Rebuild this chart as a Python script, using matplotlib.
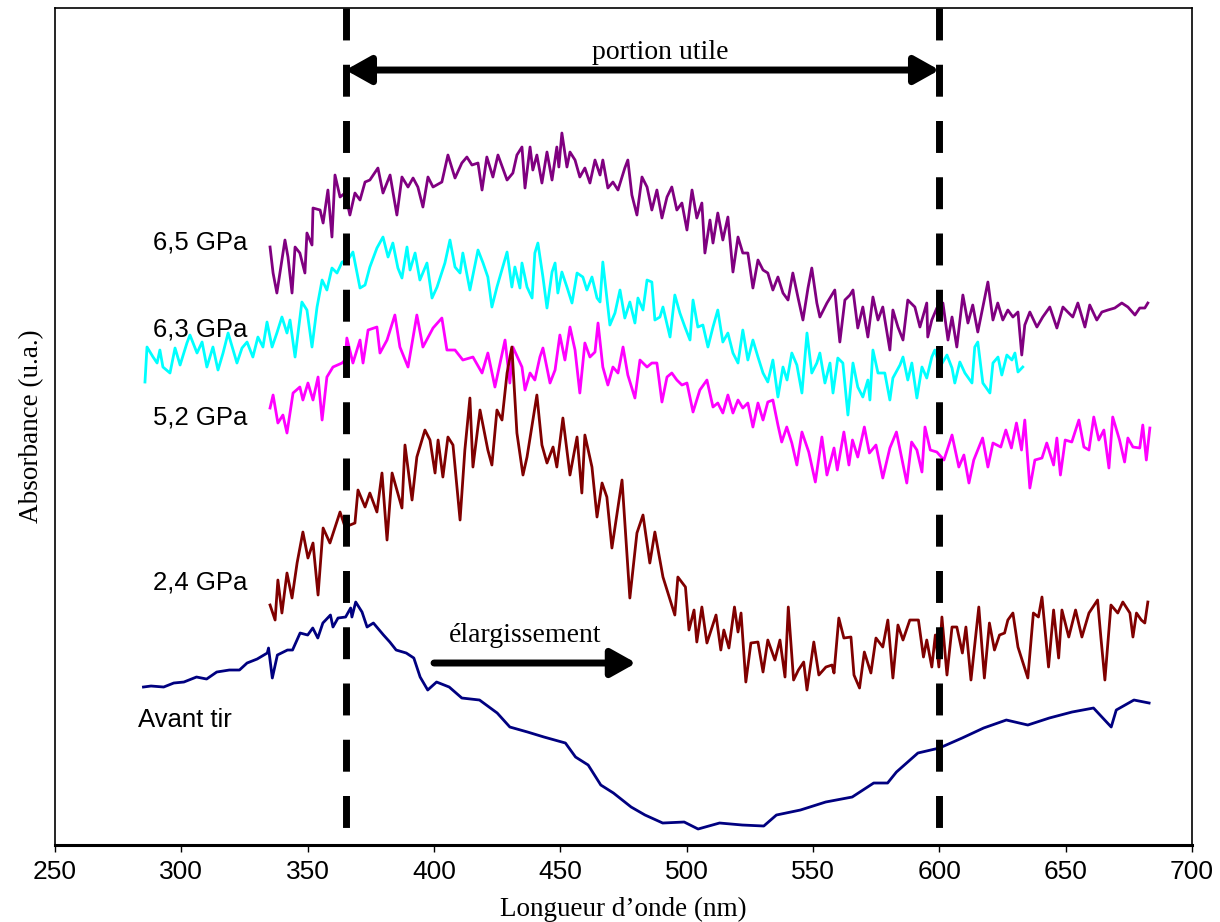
import matplotlib.pyplot as plt

# longueur d'onde (nm), absorbance (u.a.)
avant_tir = [
    (285, 1.58), (288, 1.59), (293, 1.58), (297, 1.62), (301, 1.63), (306, 1.68),
    (310, 1.66), (314, 1.73), (319, 1.75), (323, 1.75), (326, 1.82), (330, 1.86),
    (334, 1.92), (334.5, 1.97), (336, 1.67), (338, 1.90), (342, 1.95), (344, 1.95),
    (347, 2.12), (350, 2.10), (352, 2.17), (354, 2.07), (356, 2.22), (359, 2.30),
    (360, 2.18), (362, 2.27), (365, 2.28), (367, 2.37), (367.5, 2.28), (369, 2.43),
    (371.5, 2.33), (373.5, 2.18), (376, 2.22), (380, 2.10), (382.5, 2.03), (385, 1.95),
    (389, 1.92), (392, 1.87), (394.5, 1.68), (397.5, 1.55), (401, 1.63), (406, 1.58),
    (411, 1.47), (418, 1.45), (425, 1.32), (430, 1.18), (437, 1.13), (443.5, 1.08),
    (452, 1.02), (456, 0.88), (461, 0.80), (466, 0.60), (471, 0.52), (478, 0.38),
    (483.5, 0.30), (490.5, 0.22), (499, 0.23), (504.5, 0.16), (513, 0.22), (522, 0.20),
    (530.5, 0.19), (535.5, 0.30), (545, 0.35), (555, 0.43), (565.5, 0.48), (574, 0.62),
    (579.5, 0.62), (583, 0.73), (591.5, 0.92), (600, 0.97), (609, 1.07), (617.5, 1.17),
    (626.5, 1.25), (635, 1.20), (643.5, 1.27), (652.5, 1.33), (661, 1.37), (668, 1.18),
    (670, 1.35), (677, 1.45), (683, 1.42),
]

gpa_2_4 = [
    (335.1, 2.40), (337.1, 2.25), (338.2, 2.65), (339.8, 2.32), (341.8, 2.72), (343.8, 2.47),
    (345.8, 2.82), (348.1, 3.13), (350.1, 2.87), (352.1, 3.02), (354.1, 2.50), (356.1, 3.17),
    (358.8, 3.02), (362.8, 3.33), (364.8, 3.18), (368.7, 3.22), (369.9, 3.55), (372.7, 3.38),
    (374.6, 3.52), (377.4, 3.33), (379.4, 3.72), (381.4, 3.05), (383.4, 3.72), (387.3, 3.37),
    (388.5, 4.00), (391.3, 3.45), (393.2, 3.88), (396.4, 4.15), (398.4, 4.05), (400.4, 3.72),
    (401.6, 4.05), (403.5, 3.68), (405.5, 4.08), (407.5, 4.00), (410.3, 3.25), (412.2, 3.95),
    (414.2, 4.47), (415.4, 3.78), (418.2, 4.35), (421.3, 3.95), (422.9, 3.80), (424.9, 4.35),
    (426.9, 4.25), (428.9, 4.72), (430.8, 4.98), (432.8, 4.12), (435.2, 3.70), (436.8, 3.88),
    (440.7, 4.50), (442.7, 4.00), (444.7, 3.82), (447.1, 3.98), (448.6, 3.78), (451.0, 4.27),
    (453.8, 3.70), (456.6, 4.08), (458.5, 3.52), (459.7, 4.10), (462.5, 3.78), (464.5, 3.28),
    (466.5, 3.62), (468.4, 3.48), (470.4, 2.97), (474.4, 3.65), (477.5, 2.47), (480.3, 3.12),
    (482.7, 3.30), (485.4, 2.82), (487.4, 3.13), (490.6, 2.68), (495.3, 2.30), (496.5, 2.68),
    (499.5, 2.58), (500.9, 2.15), (502.9, 2.35), (504.0, 2.03), (506.0, 2.38), (508.0, 2.02),
    (511.6, 2.30), (513.5, 1.95), (514.7, 2.15), (516.7, 1.97), (518.9, 2.38), (520.3, 2.13),
    (521.5, 2.32), (523.4, 1.63), (525.4, 2.02), (528.2, 2.03), (530.2, 1.73), (532.1, 2.05),
    (534.9, 1.85), (536.9, 2.05), (538.9, 1.68), (540.2, 2.38), (542.3, 1.65), (544.2, 1.75),
    (546.3, 1.83), (547.6, 1.55), (550.3, 2.03), (552.3, 1.70), (555.1, 1.78), (557.5, 1.80),
    (558.3, 1.72), (560.2, 2.27), (562.2, 2.07), (565.0, 2.08), (566.2, 1.70), (568.4, 1.57),
    (570.3, 1.93), (572.9, 1.72), (574.9, 2.07), (577.6, 1.98), (579.6, 2.25), (581.6, 1.67),
    (583.6, 2.20), (585.6, 2.05), (588.3, 2.25), (591.7, 2.25), (593.7, 1.88), (595.0, 2.05),
    (597.0, 1.78), (598.4, 2.10), (599.8, 1.78), (601.0, 2.28), (603.0, 1.70), (605.0, 2.18),
    (606.9, 2.18), (609.1, 1.92), (610.5, 2.18), (612.5, 1.65), (615.6, 2.38), (617.8, 1.67),
    (619.8, 2.22), (621.8, 1.95), (623.8, 2.10), (625.8, 2.12), (627.1, 2.25), (629.1, 2.32),
    (631.1, 1.98), (633.0, 1.83), (635.0, 1.67), (637.2, 2.32), (639.2, 2.28), (640.6, 2.48),
    (643.2, 1.78), (645.2, 2.35), (647.2, 1.87), (648.5, 2.35), (651.2, 2.08), (653.9, 2.35),
    (656.4, 2.08), (659.2, 2.32), (662.6, 2.45), (663.9, 2.08), (665.5, 1.65), (667.9, 2.40),
    (670.6, 2.32), (672.6, 2.43), (675.4, 2.32), (676.6, 2.08), (678.0, 2.32), (679.9, 2.25),
    (681.3, 2.22), (682.5, 2.43),
]

gpa_5_2 = [
    (335.1, 4.37), (336.3, 4.50), (338.2, 4.22), (340.2, 4.30), (341.8, 4.12), (344.2, 4.52),
    (346.9, 4.58), (348.1, 4.45), (350.1, 4.62), (352.1, 4.45), (354.1, 4.68), (355.7, 4.25),
    (357.6, 4.68), (360.0, 4.78), (363.6, 4.82), (364.8, 4.85), (365.5, 5.07), (367.9, 4.82),
    (370.7, 5.05), (371.9, 4.82), (373.9, 5.15), (377.4, 5.18), (378.6, 4.92), (381.4, 5.05),
    (384.5, 5.30), (386.5, 4.98), (389.7, 4.78), (393.2, 5.30), (395.6, 4.98), (399.6, 5.17),
    (403.1, 5.27), (405.1, 4.95), (408.3, 4.95), (411.4, 4.85), (415.4, 4.88), (419.0, 4.72),
    (421.3, 4.92), (424.1, 4.58), (428.1, 5.05), (430.0, 4.62), (431.2, 4.98), (434.8, 4.78),
    (436.0, 4.55), (438.0, 4.72), (439.9, 4.65), (441.9, 4.88), (443.1, 4.97), (445.9, 4.62),
    (447.9, 4.75), (449.8, 5.10), (451.8, 4.85), (453.8, 5.18), (455.8, 4.95), (457.7, 4.52),
    (459.7, 5.02), (461.7, 4.88), (463.7, 4.93), (464.9, 5.22), (466.8, 4.78), (468.8, 4.60),
    (470.8, 4.78), (472.8, 4.72), (474.8, 4.98), (476.7, 4.70), (479.5, 4.47), (481.5, 4.85),
    (484.3, 4.78), (486.2, 4.82), (488.2, 4.82), (490.2, 4.43), (492.2, 4.68), (494.1, 4.72),
    (496.1, 4.65), (498.1, 4.60), (500.1, 4.62), (502.5, 4.33), (505.2, 4.55), (508.0, 4.65),
    (510.4, 4.38), (512.3, 4.42), (514.3, 4.32), (516.3, 4.50), (518.3, 4.32), (520.3, 4.45),
    (522.2, 4.37), (524.2, 4.42), (526.2, 4.18), (528.2, 4.42), (530.2, 4.25), (532.1, 4.43),
    (534.1, 4.45), (536.1, 4.20), (537.6, 4.03), (539.6, 4.18), (541.6, 4.02), (543.6, 3.80),
    (545.6, 4.13), (548.3, 3.93), (550.9, 3.63), (553.5, 4.08), (555.5, 3.70), (558.3, 3.97),
    (559.6, 3.75), (562.2, 4.13), (564.2, 3.80), (565.6, 4.05), (567.7, 3.88), (570.3, 4.18),
    (572.3, 3.92), (574.9, 4.00), (577.6, 3.67), (580.4, 3.97), (583.0, 4.13), (587.1, 3.62),
    (589.0, 4.03), (591.1, 3.95), (593.1, 3.73), (594.3, 4.18), (596.4, 3.95), (599.0, 3.93),
    (601.8, 3.85), (605.0, 4.10), (607.7, 3.78), (609.7, 3.90), (611.7, 3.62), (613.6, 3.85),
    (617.1, 4.07), (619.2, 3.78), (621.2, 4.02), (624.3, 3.98), (626.3, 4.15), (628.5, 3.97),
    (630.5, 4.22), (632.5, 3.95), (633.8, 4.25), (635.8, 3.57), (637.8, 3.85), (640.6, 3.87),
    (642.5, 4.02), (645.2, 3.80), (646.5, 4.07), (647.9, 3.70), (649.8, 4.05), (652.4, 4.03),
    (655.2, 4.25), (657.2, 3.98), (659.2, 3.95), (661.1, 4.28), (663.1, 4.05), (665.1, 4.15),
    (667.1, 3.77), (668.6, 4.28), (671.3, 4.05), (673.3, 3.83), (674.6, 4.07), (676.6, 3.98),
    (679.3, 3.97), (680.5, 4.20), (681.9, 3.85), (683.3, 4.17),
]

gpa_6_3 = [
    (285.6, 4.63), (286.4, 4.98), (288.8, 4.88), (290.4, 4.82), (291.5, 4.95), (292.7, 4.78),
    (295.5, 4.72), (297.5, 4.97), (299.5, 4.80), (302.2, 5.02), (303.4, 5.10), (306.2, 4.92),
    (308.2, 5.03), (310.1, 4.78), (312.5, 4.98), (314.5, 4.75), (316.5, 4.92), (318.5, 5.12),
    (322.0, 4.82), (324.0, 4.97), (326.0, 5.03), (328.3, 4.88), (330.3, 5.08), (332.3, 4.98),
    (333.9, 5.23), (335.9, 4.98), (337.8, 5.12), (339.8, 5.28), (341.8, 5.12), (343.0, 5.25),
    (345.0, 4.88), (347.7, 5.43), (349.7, 5.35), (351.7, 4.98), (353.7, 5.38), (355.7, 5.65),
    (357.6, 5.55), (359.6, 5.77), (361.6, 5.72), (363.6, 5.83), (365.9, 5.85), (367.9, 5.93),
    (370.7, 5.57), (372.7, 5.60), (374.6, 5.78), (377.4, 5.97), (379.8, 6.08), (381.8, 5.88),
    (383.7, 6.02), (385.7, 5.77), (387.3, 5.67), (389.3, 5.98), (390.5, 5.75), (392.5, 5.92),
    (394.4, 5.65), (397.2, 5.82), (399.2, 5.47), (401.2, 5.58), (404.3, 5.82), (406.3, 6.05),
    (408.3, 5.78), (410.3, 5.72), (411.4, 5.92), (414.2, 5.55), (417.4, 5.95), (419.4, 5.82),
    (421.3, 5.68), (422.9, 5.38), (424.9, 5.58), (428.9, 5.93), (430.8, 5.58), (432.0, 5.78),
    (434.0, 5.57), (434.8, 5.82), (436.8, 5.58), (438.8, 5.47), (439.9, 5.92), (441.1, 6.02),
    (443.1, 5.68), (444.7, 5.37), (446.7, 5.73), (447.9, 5.82), (449.0, 5.52), (450.6, 5.73),
    (452.6, 5.58), (454.6, 5.42), (456.6, 5.72), (458.9, 5.68), (460.5, 5.55), (462.5, 5.68),
    (464.5, 5.47), (465.7, 5.43), (466.8, 5.83), (469.6, 5.20), (471.6, 5.32), (473.6, 5.55),
    (475.5, 5.27), (477.5, 5.43), (479.5, 5.22), (480.7, 5.47), (482.7, 5.35), (484.3, 5.65),
    (486.2, 5.63), (487.4, 5.25), (489.4, 5.28), (490.6, 5.38), (493.4, 5.08), (495.3, 5.50),
    (497.3, 5.32), (499.3, 5.18), (501.3, 5.05), (502.5, 5.45), (504.4, 5.18), (506.4, 5.20),
    (508.4, 4.98), (510.4, 5.18), (512.3, 5.35), (514.3, 5.03), (516.3, 5.12), (518.3, 4.92),
    (520.3, 4.82), (522.2, 5.15), (524.2, 4.85), (526.2, 5.05), (528.2, 4.88), (530.2, 4.72),
    (532.1, 4.63), (534.1, 4.85), (536.1, 4.48), (538.1, 4.78), (539.7, 4.65), (541.6, 4.92),
    (543.6, 4.80), (545.6, 4.52), (547.6, 5.12), (549.5, 4.72), (551.5, 4.82), (552.7, 4.92),
    (554.7, 4.62), (556.7, 4.82), (557.9, 4.52), (559.8, 4.87), (561.8, 4.82), (563.8, 4.30),
    (565.8, 4.82), (567.7, 4.58), (569.7, 4.48), (571.7, 4.65), (572.5, 4.45), (573.7, 4.95),
    (575.7, 4.72), (578.4, 4.72), (580.4, 4.45), (581.6, 4.67), (584.4, 4.80), (585.6, 4.88),
    (587.5, 4.65), (589.1, 4.82), (591.1, 4.47), (593.1, 4.78), (595.0, 4.67), (597.0, 4.88),
    (598.2, 4.95), (600.2, 4.78), (603.0, 4.90), (605.0, 4.77), (606.1, 4.62), (608.1, 4.83),
    (610.1, 4.72), (612.9, 4.62), (614.0, 4.98), (615.2, 5.03), (617.2, 4.62), (620.0, 4.52),
    (621.2, 4.82), (623.2, 4.88), (624.7, 4.70), (626.7, 4.90), (628.7, 4.85), (629.9, 4.92),
    (631.1, 4.73), (633.0, 4.78),
]

gpa_6_5 = [
    (335.1, 5.98), (336.3, 5.72), (337.8, 5.52), (339.0, 5.72), (341.0, 6.05), (342.2, 5.88),
    (343.8, 5.52), (345.0, 5.98), (346.9, 5.92), (348.9, 5.72), (349.7, 6.12), (351.7, 6.00),
    (352.1, 6.37), (354.9, 6.35), (356.1, 6.22), (358.0, 6.55), (359.6, 6.08), (360.8, 6.70),
    (362.8, 6.48), (364.8, 6.52), (366.7, 6.30), (368.7, 6.52), (370.7, 6.45), (372.7, 6.63),
    (374.6, 6.65), (377.8, 6.77), (379.8, 6.52), (382.6, 6.70), (385.3, 6.30), (387.3, 6.68),
    (389.7, 6.58), (391.7, 6.67), (393.6, 6.58), (395.6, 6.38), (397.6, 6.68), (399.6, 6.58),
    (403.1, 6.63), (405.5, 6.90), (408.3, 6.67), (411.0, 6.82), (413.0, 6.88), (415.0, 6.80),
    (417.4, 6.82), (419.0, 6.55), (420.9, 6.88), (423.3, 6.68), (425.3, 6.90), (428.9, 6.65),
    (431.2, 6.72), (432.8, 6.90), (434.8, 6.98), (436.0, 6.57), (438.0, 6.98), (439.1, 6.75),
    (440.7, 6.90), (442.7, 6.62), (444.7, 6.93), (446.7, 6.65), (448.6, 6.98), (449.4, 6.78),
    (450.6, 7.12), (452.6, 6.78), (453.8, 6.93), (455.8, 6.85), (457.7, 6.68), (459.7, 6.77),
    (461.7, 6.62), (463.7, 6.85), (465.7, 6.70), (466.8, 6.85), (468.8, 6.57), (470.8, 6.63),
    (472.8, 6.55), (475.5, 6.77), (476.7, 6.85), (478.3, 6.50), (480.3, 6.30), (482.3, 6.68),
    (484.3, 6.58), (486.2, 6.35), (488.2, 6.55), (490.2, 6.27), (492.2, 6.48), (494.1, 6.58),
    (496.1, 6.35), (498.1, 6.42), (500.1, 6.15), (502.1, 6.55), (504.0, 6.27), (506.0, 6.42),
    (507.2, 5.92), (509.2, 6.25), (510.4, 6.02), (512.3, 6.32), (514.3, 6.05), (516.3, 6.28),
    (518.3, 5.73), (520.3, 6.08), (522.2, 5.92), (524.2, 5.92), (526.2, 5.57), (528.2, 5.85),
    (530.2, 5.75), (532.1, 5.72), (534.1, 5.55), (536.1, 5.68), (538.1, 5.52), (540.1, 5.45),
    (542.0, 5.72), (544.0, 5.48), (546.0, 5.25), (548.0, 5.57), (549.5, 5.77), (551.5, 5.42),
    (552.7, 5.28), (555.5, 5.42), (558.6, 5.55), (560.6, 5.03), (562.6, 5.45), (564.6, 5.50),
    (565.8, 5.55), (567.7, 5.17), (569.7, 5.38), (571.7, 5.08), (573.7, 5.48), (575.7, 5.25),
    (577.6, 5.38), (580.4, 4.95), (581.6, 5.35), (583.6, 5.18), (585.6, 5.05), (587.5, 5.45),
    (590.3, 5.38), (592.3, 5.18), (595.0, 5.42), (595.4, 5.08), (597.0, 5.25), (599.0, 5.37),
    (601.4, 5.42), (603.4, 5.05), (605.0, 5.28), (606.9, 4.98), (609.3, 5.50), (611.3, 5.22),
    (613.2, 5.40), (615.2, 5.13), (617.2, 5.38), (619.2, 5.63), (621.2, 5.25), (623.1, 5.42),
    (625.1, 5.25), (627.1, 5.35), (629.1, 5.28), (631.1, 5.33), (632.6, 4.90), (633.8, 5.20),
    (635.8, 5.33), (638.6, 5.18), (640.9, 5.28), (643.7, 5.38), (646.5, 5.17), (648.9, 5.38),
    (650.8, 5.33), (652.8, 5.28), (654.8, 5.42), (657.6, 5.18), (659.5, 5.40), (662.3, 5.25),
    (664.3, 5.33), (666.7, 5.35), (669.4, 5.37), (672.2, 5.42), (674.6, 5.38), (677.4, 5.30),
    (679.3, 5.37), (681.3, 5.37), (682.5, 5.42),
]

portion_utile = (365, 600)
elargissement = (400, 480)

series = [
    (gpa_6_5, '#800080', '6,5 GPa', 6.03),
    (gpa_6_3, '#00FFFF', '6,3 GPa', 5.16),
    (gpa_5_2, '#FF00FF', '5,2 GPa', 4.28),
    (gpa_2_4, '#800000', '2,4 GPa', 2.63),
    (avant_tir, '#000080', 'Avant tir', 1.25),
]

serif = 'Liberation Serif'
sans = 'Liberation Sans'

fig = plt.figure(figsize=(12.2, 9.22), dpi=100)
ax = fig.add_axes([0.0451, 0.0835, 0.932, 0.9078])

for data, col, lab, ylab in series:
    x = [p[0] for p in data]
    y = [p[1] for p in data]
    ax.plot(x, y, color=col, lw=2.0, zorder=2)
    if lab == 'Avant tir':
        ax.text(283, ylab, lab, ha='left', va='center', fontsize=18.5, family=sans)
    else:
        ax.text(326, ylab, lab, ha='right', va='center', fontsize=18.5, family=sans)

ymax = 8.37
for xv in portion_utile:
    ax.plot([xv, xv], [ymax, 0], color='black', lw=5, dashes=(4.6, 3.5),
            dash_capstyle='butt', zorder=3)

head = '<|-|>,head_length=0.75,head_width=0.42'
ax.annotate('', xy=(portion_utile[1], 7.75), xytext=(portion_utile[0], 7.75),
            arrowprops=dict(arrowstyle=head, lw=5, color='black', shrinkA=0, shrinkB=0,
                            mutation_scale=20), zorder=4)
ax.text(489.4, 7.93, 'portion utile', ha='center', va='center', fontsize=20, family=serif)

ax.annotate('', xy=(elargissement[1], 1.82), xytext=(elargissement[0], 1.82),
            arrowprops=dict(arrowstyle='-|>,head_length=0.75,head_width=0.42',
                            lw=5, color='black', shrinkA=0, shrinkB=0,
                            mutation_scale=20), zorder=4)
ax.text(436, 2.10, 'élargissement', ha='center', va='center', fontsize=20, family=serif)

ax.set_xlim(250, 700)
ax.set_ylim(0, ymax)
ax.set_xticks(range(250, 701, 50))
ax.set_yticks([])
ax.tick_params(axis='x', direction='out', length=5, width=1, pad=6, labelsize=19)
for t in ax.get_xticklabels():
    t.set_family(sans)
for s in ax.spines.values():
    s.set_linewidth(1.2)
ax.spines['bottom'].set_linewidth(2.2)

ax.set_xlabel('Longueur d’onde (nm)', fontsize=19.5, family=serif, labelpad=9)
ax.set_ylabel('Absorbance (u.a.)', fontsize=19.5, family=serif, labelpad=8)

fig.savefig('out.png', dpi=100)
